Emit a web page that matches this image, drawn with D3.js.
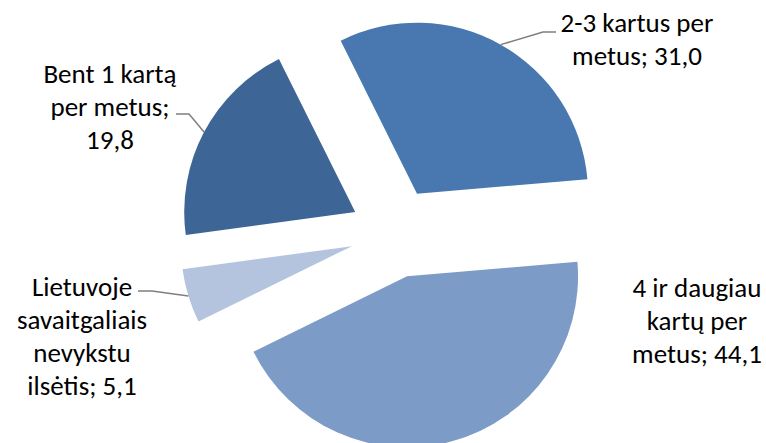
<!DOCTYPE html>
<html>
<head>
<meta charset="utf-8">
<script src="https://cdn.jsdelivr.net/npm/d3@7"></script>
<style>
  html, body { margin: 0; padding: 0; background: #ffffff; }
  svg { display: block; }
  text { font-family: Carlito, Lato, "Open Sans", sans-serif; }
</style>
</head>
<body>
<div id="chart"></div>
<script>
// ---- data ----
const categories = [
  "2-3 kartus per metus",
  "4 ir daugiau kartų per metus",
  "Lietuvoje savaitgaliais nevykstu ilsėtis",
  "Bent 1 kartą per metus"
];
const values = [31.0, 44.1, 5.1, 19.8];
const labelLines = [
  ["2-3 kartus per", "metus; 31,0"],
  ["4 ir daugiau", "kartų per", "metus; 44,1"],
  ["Lietuvoje", "savaitgaliais", "nevykstu", "ilsėtis; 5,1"],
  ["Bent 1 kartą", "per metus;", "19,8"]
];
const colors = ["#4878AF", "#7D9BC7", "#B4C4DE", "#3D6596"];

// ---- layout ----
const W = 766, H = 443;
const cx = 395, cy = 233, R = 171, explode = 45;
const startDeg = -26.5;
const fontSize = 27, lineH = 33;
const labelLayout = [
  { x: 637, y: 32, leader: [[543, 32], [556, 32]] },
  { x: 697, y: 297, leader: null },
  { x: 82, y: 296, leader: [[152, 291], [138, 291]] },
  { x: 110, y: 83, leader: [[189, 114], [176, 114]] }
];

const svg = d3.select("#chart").append("svg")
  .attr("width", W).attr("height", H);

svg.append("rect").attr("width", W).attr("height", H).attr("fill", "#ffffff");

const data = categories.map((c, i) => ({ name: c, value: values[i], i }));
const start = startDeg * Math.PI / 180;
const pie = d3.pie().value(d => d.value).sort(null)
  .startAngle(start).endAngle(start + 2 * Math.PI);
const arc = d3.arc().innerRadius(0).outerRadius(R);
const arcs = pie(data);

const g = svg.append("g").attr("transform", `translate(${cx},${cy})`);

function offset(a) {
  const m = (a.startAngle + a.endAngle) / 2;
  return [explode * Math.sin(m), -explode * Math.cos(m)];
}

g.selectAll("path.slice").data(arcs).enter().append("path")
  .attr("class", "slice")
  .attr("d", arc)
  .attr("fill", (d, i) => colors[i])
  .attr("transform", d => { const o = offset(d); return `translate(${o[0]},${o[1]})`; });

// leader lines
arcs.forEach((a, i) => {
  const L = labelLayout[i];
  if (!L.leader) return;
  const m = (a.startAngle + a.endAngle) / 2;
  const o = offset(a);
  const px = cx + o[0] + R * Math.sin(m);
  const py = cy + o[1] - R * Math.cos(m);
  const pts = [[px, py]].concat(L.leader);
  svg.append("path")
    .attr("d", d3.line()(pts))
    .attr("fill", "none")
    .attr("stroke", "#7f7f7f")
    .attr("stroke-width", 1.5);
});

// labels
arcs.forEach((a, i) => {
  const L = labelLayout[i];
  const t = svg.append("text")
    .attr("x", L.x).attr("y", L.y)
    .attr("text-anchor", "middle")
    .attr("font-size", fontSize)
    .attr("fill", "#000000");
  labelLines[i].forEach((ln, k) => {
    t.append("tspan").attr("x", L.x).attr("y", L.y + k * lineH).text(ln);
  });
});
</script>
</body>
</html>
